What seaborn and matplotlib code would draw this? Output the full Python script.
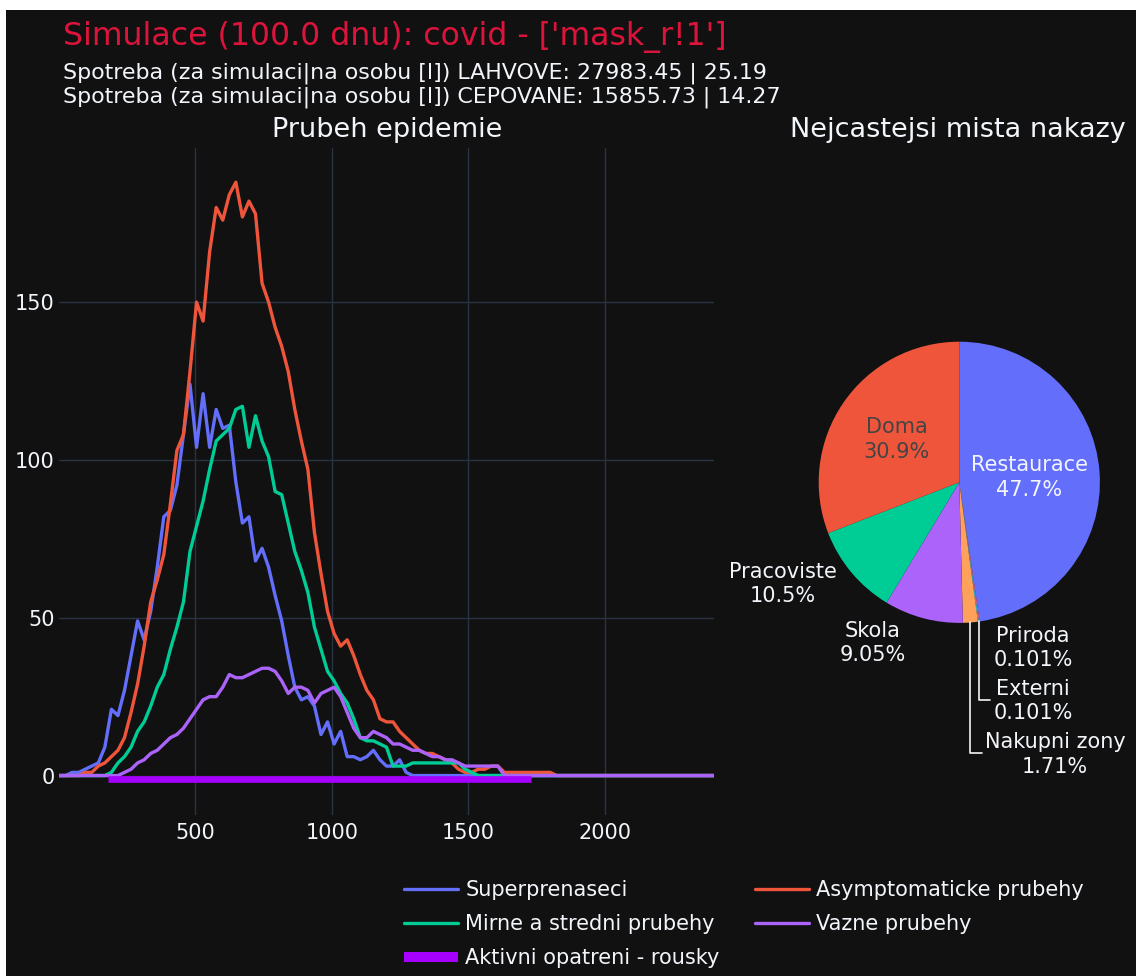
import numpy as np
import pandas as pd
import matplotlib
matplotlib.use("Agg")
import matplotlib.pyplot as plt
import seaborn as sns
from matplotlib.lines import Line2D
from matplotlib.patches import Rectangle

# ---------------- data ----------------
TITLE = "Simulace (100.0 dnu): covid - ['mask_r!1']"
SUBTITLE_1 = "Spotreba (za simulaci|na osobu [l]) LAHVOVE: 27983.45 | 25.19"
SUBTITLE_2 = "Spotreba (za simulaci|na osobu [l]) CEPOVANE: 15855.73 | 14.27"
LINE_TITLE = "Prubeh epidemie"
PIE_TITLE = "Nejcastejsi mista nakazy"

HOURS = list(range(0, 2401, 24))

SUPERPRENASECI = [
    0, 0, 1, 1, 2, 3, 4, 9, 21, 19,
    27, 38, 49, 43, 52, 66, 82, 84, 92, 108,
    124, 104, 121, 104, 116, 110, 111, 93, 80, 82,
    68, 72, 66, 57, 49, 38, 28, 24, 25, 22,
    13, 17, 10, 14, 6, 6, 5, 6, 8, 5,
    3, 3, 5, 1, 0, 0, 0, 0, 0, 0,
    0, 0, 0, 0, 0, 0, 0, 0, 0, 0,
    0, 0, 0, 0, 0, 0, 0, 0, 0, 0,
    0, 0, 0, 0, 0, 0, 0, 0, 0, 0,
    0, 0, 0, 0, 0, 0, 0, 0, 0, 0,
    0]
ASYMPTOMATICKE = [
    0, 0, 0, 0, 1, 1, 3, 4, 6, 8,
    12, 20, 29, 41, 55, 62, 70, 86, 103, 108,
    128, 150, 144, 166, 180, 176, 184, 188, 177, 182,
    178, 156, 150, 142, 136, 128, 116, 106, 97, 77,
    64, 52, 45, 41, 43, 38, 32, 27, 24, 18,
    17, 17, 14, 12, 10, 8, 7, 7, 6, 5,
    4, 2, 1, 1, 2, 2, 3, 3, 1, 1,
    1, 1, 1, 1, 1, 1, 0, 0, 0, 0,
    0, 0, 0, 0, 0, 0, 0, 0, 0, 0,
    0, 0, 0, 0, 0, 0, 0, 0, 0, 0,
    0]
MIRNE = [
    0, 0, 0, 0, 0, 0, 0, 0, 1, 4,
    6, 9, 14, 17, 22, 28, 32, 40, 47, 55,
    71, 79, 87, 97, 106, 108, 110, 116, 117, 104,
    114, 106, 101, 90, 89, 80, 71, 65, 58, 47,
    40, 33, 30, 26, 23, 18, 12, 11, 11, 10,
    9, 3, 3, 3, 4, 4, 4, 4, 4, 4,
    4, 4, 2, 1, 0, 0, 0, 0, 0, 0,
    0, 0, 0, 0, 0, 0, 0, 0, 0, 0,
    0, 0, 0, 0, 0, 0, 0, 0, 0, 0,
    0, 0, 0, 0, 0, 0, 0, 0, 0, 0,
    0]
VAZNE = [
    0, 0, 0, 0, 0, 0, 0, 0, 0, 0,
    1, 2, 4, 5, 7, 8, 10, 12, 13, 15,
    18, 21, 24, 25, 25, 28, 32, 31, 31, 32,
    33, 34, 34, 33, 30, 26, 28, 28, 27, 23,
    26, 27, 28, 25, 20, 15, 12, 12, 14, 13,
    12, 10, 10, 9, 8, 8, 7, 6, 6, 5,
    5, 4, 3, 3, 3, 3, 3, 3, 0, 0,
    0, 0, 0, 0, 0, 0, 0, 0, 0, 0,
    0, 0, 0, 0, 0, 0, 0, 0, 0, 0,
    0, 0, 0, 0, 0, 0, 0, 0, 0, 0,
    0]

SERIES = ["Superprenaseci", "Asymptomaticke prubehy",
          "Mirne a stredni prubehy", "Vazne prubehy"]
MASK_LABEL = "Aktivni opatreni - rousky"
MASK_HOURS = [180, 1728]
MASK_LEVEL = -1

PIE_LABELS = ["Restaurace", "Externi", "Priroda", "Nakupni zony",
              "Skola", "Pracoviste", "Doma"]
PIE_COUNTS = [474, 1, 1, 17, 90, 104, 307]

X_TICKS = [500, 1000, 1500, 2000]
Y_TICKS = [0, 50, 100, 150]

# ---------------- style ----------------
BG = "#111111"
TEXT = "#f2f5fa"
GRID = "#283442"
TITLE_COLOR = "#dc143c"
COLORS = ["#636efa", "#EF553B", "#00cc96", "#ab63fa"]
MASK_COLOR = "#a600ff"
PIE_COLORS = ["#636efa", "#FF6692", "#19d3f3", "#FFA15A",
              "#ab63fa", "#00cc96", "#EF553B"]

sns.set_theme(style="dark")
plt.rcParams['font.family'] = ['DejaVu Sans']

W, H = 1136, 976
fig = plt.figure(figsize=(W / 100, H / 100), dpi=100)
fig.patch.set_facecolor("white")
fig.add_artist(Rectangle((6 / W, 0), 1 - 6 / W, 1 - 10 / H,
                         transform=fig.transFigure, facecolor=BG,
                         edgecolor="none", zorder=-10))

# ---------------- line chart ----------------
ax = fig.add_axes([59 / W, 1 - 815 / H, (714 - 59) / W, (815 - 147.5) / H])
ax.set_facecolor(BG)
df = pd.concat([
    pd.DataFrame({"hour": HOURS, "count": vals, "series": name})
    for name, vals in zip(SERIES, [SUPERPRENASECI, ASYMPTOMATICKE, MIRNE, VAZNE])
], ignore_index=True)
sns.lineplot(data=df, x="hour", y="count", hue="series", hue_order=SERIES,
             palette=dict(zip(SERIES, COLORS)), linewidth=2.4, legend=False,
             estimator=None, ax=ax)
mask_df = pd.DataFrame({"hour": MASK_HOURS, "level": [MASK_LEVEL] * len(MASK_HOURS)})
sns.lineplot(data=mask_df, x="hour", y="level", color=MASK_COLOR, linewidth=4.8,
             estimator=None, solid_capstyle="butt", ax=ax)

ax.set_xlim(0, 2400)
ax.set_ylim(-12.5, 199)
ax.set_xticks(X_TICKS)
ax.set_yticks(Y_TICKS)
ax.set_axisbelow(True)
ax.grid(True, color=GRID, linewidth=1.0)
for s in ax.spines.values():
    s.set_visible(False)
ax.tick_params(axis="both", colors=TEXT, labelcolor=TEXT, labelsize=15, length=0)
ax.tick_params(axis="x", pad=6)
ax.tick_params(axis="y", pad=3)
ax.set_xlabel("")
ax.set_ylabel("")

# ---------------- pie ----------------
R = 140.6
CX, CY = 959.3, 482.3
pax = fig.add_axes([(CX - R) / W, 1 - (CY + R) / H, 2 * R / W, 2 * R / H])
wedges, _ = pax.pie(PIE_COUNTS, colors=PIE_COLORS, startangle=90,
                    counterclock=False, radius=1,
                    wedgeprops=dict(linewidth=0))
pax.set_xlim(-1, 1)
pax.set_ylim(-1, 1)
pax.set_aspect("equal")
pax.axis("off")

total = sum(PIE_COUNTS)
texts = {lab: f"{lab}\n{c / total * 100:.3g}%" for lab, c in zip(PIE_LABELS, PIE_COUNTS)}
inside = {"Restaurace": (0.5, TEXT), "Doma": (0.54, "#444444")}
outside = {"Pracoviste": (-1.253, -0.723), "Skola": (-0.614, -1.143),
           "Priroda": (0.524, -1.179), "Externi": (0.524, -1.556),
           "Nakupni zony": (0.681, -1.936)}
leaders = {"Externi": (-1.548, 0.218), "Nakupni zony": (-1.925, 0.159)}

for lab, w in zip(PIE_LABELS, wedges):
    mid = np.deg2rad((w.theta1 + w.theta2) / 2)
    if lab in inside:
        r, col = inside[lab]
        pax.text(r * np.cos(mid), r * np.sin(mid), texts[lab], ha="center",
                 va="center", fontsize=15, color=col, linespacing=1.3)
    else:
        x, y = outside[lab]
        pax.text(x, y, texts[lab], ha="center", va="center", fontsize=15,
                 color=TEXT, linespacing=1.3)
    if lab in leaders:
        ly, lx = leaders[lab]
        ex, ey = np.cos(mid), np.sin(mid)
        pax.plot([ex, ex, lx], [ey, ly, ly], color=TEXT, lw=1.2, clip_on=False)

# ---------------- texts ----------------
fig.text(63 / W, 1 - 37 / H, TITLE, color=TITLE_COLOR, fontsize=22.7,
         ha="left", va="center")
fig.text(63 / W, 1 - 73 / H, SUBTITLE_1, color=TEXT, fontsize=15.9,
         ha="left", va="center")
fig.text(63 / W, 1 - 97 / H, SUBTITLE_2, color=TEXT, fontsize=15.9,
         ha="left", va="center")
fig.text(387 / W, 1 - 130 / H, LINE_TITLE, color=TEXT, fontsize=19.5,
         ha="center", va="center")
fig.text(958 / W, 1 - 130 / H, PIE_TITLE, color=TEXT, fontsize=19.5,
         ha="center", va="center")

# ---------------- legend ----------------
line_handles = [Line2D([], [], color=c, lw=2.4) for c in COLORS]
mask_handle = Line2D([], [], color=MASK_COLOR, lw=7.2, solid_capstyle="butt")
handles = [line_handles[0], line_handles[2], mask_handle, line_handles[1], line_handles[3]]
labels = [SERIES[0], SERIES[2], MASK_LABEL, SERIES[1], SERIES[3]]
fig.legend(handles, labels, loc="upper left", bbox_to_anchor=(404 / W, 1 - 880 / H),
           ncol=2, frameon=False, fontsize=15, handlelength=2.6,
           handletextpad=0.35, columnspacing=1.68, labelspacing=0.67,
           borderpad=0, borderaxespad=0, labelcolor=TEXT)

fig.savefig("out.png", dpi=100, facecolor=fig.get_facecolor())
